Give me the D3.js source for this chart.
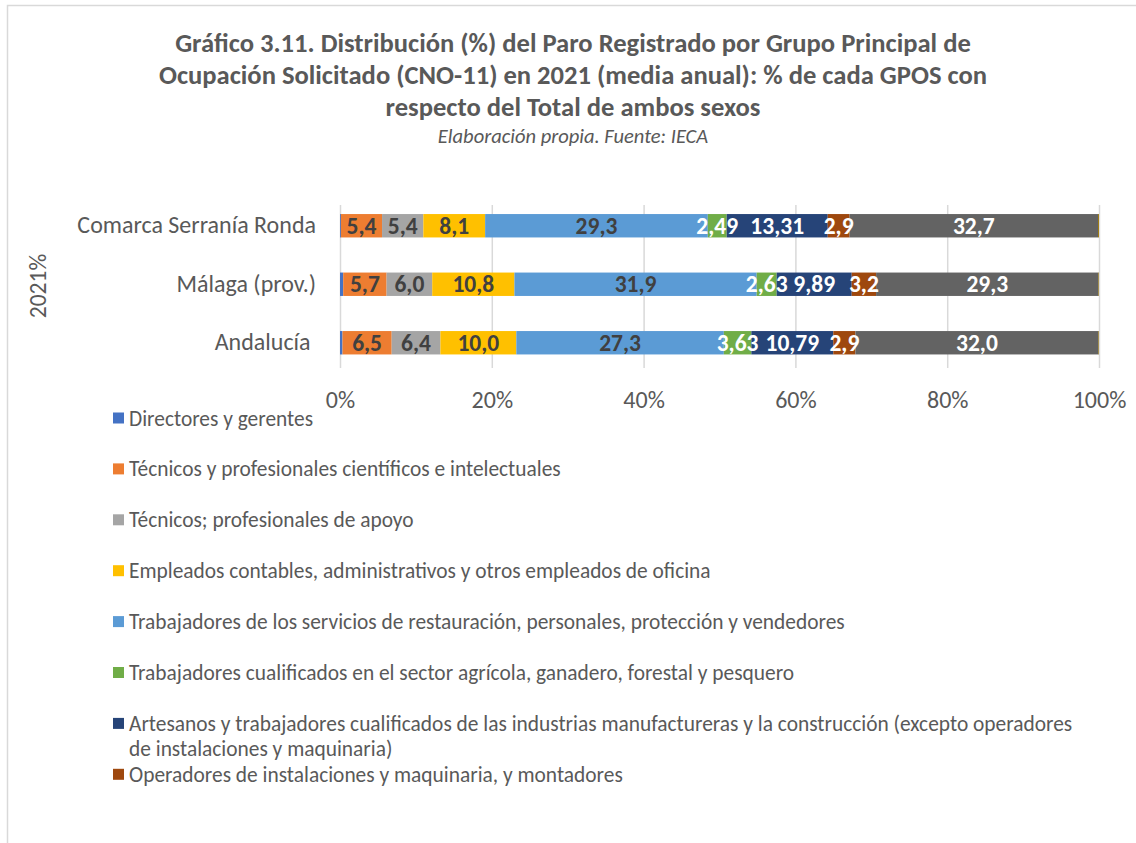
<!DOCTYPE html>
<html>
<head>
<meta charset="utf-8">
<script src="https://cdn.jsdelivr.net/npm/d3@7"></script>
<style>
  body { margin: 0; background: #fff; }
  svg text { font-family: Calibri, Carlito, Lato, sans-serif; }
</style>
</head>
<body>
<div id="chart"></div>
<script>
// categories (top to bottom)
var categories = ["Comarca Serranía Ronda", "Málaga (prov.)", "Andalucía "];

// occupation groups (CNO-11), in stacking order
var groups = [
  "Directores y gerentes",
  "Técnicos y profesionales científicos e intelectuales",
  "Técnicos; profesionales de apoyo",
  "Empleados contables, administrativos y otros empleados de oficina",
  "Trabajadores de los servicios de restauración, personales, protección y vendedores",
  "Trabajadores cualificados en el sector agrícola, ganadero, forestal y pesquero",
  "Artesanos y trabajadores cualificados de las industrias manufactureras y la construcción (excepto operadores\nde instalaciones y maquinaria)",
  "Operadores de instalaciones y maquinaria, y montadores",
  "Ocupaciones elementales",
  "Ocupaciones militares"
];

// % of each group, per category
var comarcaValues   = [0.12, 5.42, 5.44, 8.14, 29.34, 2.49, 13.31, 2.88, 32.74, 0.12];
var malagaValues    = [0.42, 5.72, 6.01, 10.83, 31.92, 2.63, 9.89, 3.21, 29.30, 0.07];
var andaluciaValues = [0.33, 6.48, 6.42, 10.00, 27.34, 3.63, 10.79, 2.92, 32.02, 0.07];

var xTicks = [0, 20, 40, 60, 80, 100];

var colors = ["#4472c4", "#ed7d31", "#a5a5a5", "#ffc000", "#5b9bd5", "#70ad47", "#264478", "#9e480e", "#636363", "#997300"];
var labelColors = ["#404040", "#404040", "#404040", "#404040", "#404040", "#fff", "#fff", "#fff", "#fff", "#fff"];
var decimals = [1, 1, 1, 1, 1, 2, 2, 1, 1, 1];
var showLabel = [false, true, true, true, true, true, true, true, true, false];
var legendCount = 8;  // the legend is cut after 8 entries

var width = 1136, height = 843;
var textColor = "#595959";

var table = categories.map(function (c, i) {
  var vals = [comarcaValues, malagaValues, andaluciaValues][i];
  var row = { cat: c };
  groups.forEach(function (g, j) { row[g] = vals[j]; });
  return row;
});

var svg = d3.select("#chart").append("svg")
  .attr("width", width)
  .attr("height", height);

// chart frame
svg.append("rect")
  .attr("x", 7.5).attr("y", 5.5)
  .attr("width", width + 10).attr("height", height + 10)
  .attr("fill", "none")
  .attr("stroke", "#d9d9d9")
  .attr("stroke-width", 1.5);

// title
var titleLines = [
  "Gráfico 3.11. Distribución (%) del Paro Registrado por Grupo Principal de",
  "Ocupación Solicitado (CNO-11) en 2021 (media anual): % de cada GPOS con",
  "respecto del Total de ambos sexos"
];
svg.selectAll("text.title")
  .data(titleLines)
  .enter().append("text")
  .attr("class", "title")
  .attr("x", 573)
  .attr("y", function (d, i) { return 52 + i * 32; })
  .attr("text-anchor", "middle")
  .attr("fill", textColor)
  .style("font-size", "26.6px")
  .style("font-weight", "bold")
  .text(function (d) { return d; });

svg.append("text")
  .attr("x", 573).attr("y", 143)
  .attr("text-anchor", "middle")
  .attr("fill", textColor)
  .style("font-size", "20.5px")
  .style("font-style", "italic")
  .text("Elaboración propia. Fuente: IECA");

var x = d3.scaleLinear().domain([0, 100]).range([340, 1099]);
var y = d3.scaleBand().domain(categories).range([196.5, 372])
  .paddingInner(0.6).paddingOuter(0.3);

var plotTop = 205, plotBottom = 368;

// x axis + gridlines
var xAxis = svg.append("g")
  .attr("transform", "translate(0," + plotBottom + ")")
  .call(d3.axisBottom(x).tickValues(xTicks)
    .tickSize(-(plotBottom - plotTop))
    .tickPadding(23)
    .tickFormat(function (d) { return d + "%"; }));
xAxis.select(".domain").remove();
xAxis.selectAll("line").attr("stroke", "#d9d9d9").attr("stroke-width", 1.5);
xAxis.selectAll("text").attr("fill", textColor).style("font-size", "24px");

// category axis
var yAxis = svg.append("g")
  .attr("transform", "translate(340,0)")
  .call(d3.axisLeft(y).tickSize(0).tickPadding(24));
yAxis.select(".domain").remove();
yAxis.selectAll("text").attr("fill", textColor)
  .style("font-size", "24px")
  .style("white-space", "pre");

// axis title
svg.append("text")
  .attr("transform", "translate(46,286) rotate(-90)")
  .attr("text-anchor", "middle")
  .attr("fill", textColor)
  .style("font-size", "23.5px")
  .text("2021%");

// stacked bars
var series = d3.stack().keys(groups)(table);

svg.append("g").selectAll("g")
  .data(series)
  .enter().append("g")
  .attr("fill", function (d, i) { return colors[i]; })
  .selectAll("rect")
  .data(function (d) { return d; })
  .enter().append("rect")
  .attr("x", function (d) { return x(d[0]); })
  .attr("width", function (d) { return x(d[1]) - x(d[0]); })
  .attr("y", function (d) { return y(d.data.cat); })
  .attr("height", y.bandwidth());

// data labels, drawn on top of every bar
var locale = d3.formatLocale({ decimal: ",", thousands: ".", grouping: [3], currency: ["", "€"] });
var labels = svg.append("g");

series.forEach(function (s, i) {
  if (!showLabel[i]) return;
  var fmt = locale.format("." + decimals[i] + "f");
  labels.append("g").selectAll("text")
    .data(s)
    .enter().append("text")
    .attr("x", function (d) { return (x(d[0]) + x(d[1])) / 2; })
    .attr("y", function (d) { return y(d.data.cat) + y.bandwidth() / 2; })
    .attr("dy", "0.35em")
    .attr("text-anchor", "middle")
    .attr("fill", labelColors[i])
    .style("font-size", "23.5px")
    .style("font-weight", "bold")
    .text(function (d) { return fmt(d[1] - d[0]); });
});

// legend
var legend = svg.selectAll("g.legend")
  .data(groups.slice(0, legendCount))
  .enter().append("g")
  .attr("class", "legend")
  .attr("transform", function (d, i) { return "translate(113," + (418 + i * 50.9) + ")"; });

legend.append("rect")
  .attr("x", 0).attr("y", -5.5)
  .attr("width", 11).attr("height", 11)
  .attr("fill", function (d, i) { return colors[i]; });

legend.append("text")
  .attr("fill", textColor)
  .style("font-size", "21.4px")
  .selectAll("tspan")
  .data(function (d) { return d.split("\n"); })
  .enter().append("tspan")
  .attr("x", 16)
  .attr("y", function (d, i) { return i * 25; })
  .attr("dy", "0.35em")
  .text(function (d) { return d; });
</script>
</body>
</html>
